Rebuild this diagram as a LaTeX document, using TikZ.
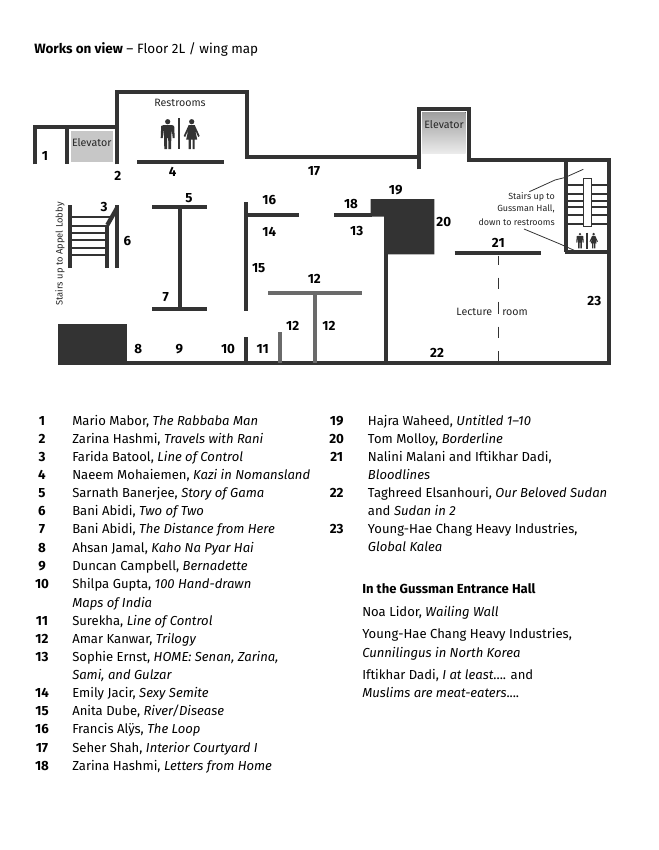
\documentclass[tikz,border=0pt]{standalone}
\usepackage{fontspec}
\setmainfont{Fira Sans}
\usetikzlibrary{positioning}
\usetikzlibrary{calc}
\definecolor{wallgray}{HTML}{333333}
\definecolor{softgray}{HTML}{6A6A6A}
\tikzstyle{wall}=[draw=wallgray,line width=3.2pt]
\tikzstyle{softwall}=[draw=softgray,line width=3pt]
\tikzstyle{tread}=[draw=wallgray,line width=1.5pt]
\tikzstyle{leader}=[draw=wallgray,line width=0.6pt]
\tikzstyle{solidblock}=[fill=wallgray]
\tikzstyle{num}=[font=\fontsize{10}{12}\selectfont\bfseries,inner sep=0pt]
\tikzstyle{caption}=[font=\fontsize{8}{10}\selectfont,inner sep=0pt,text=black!85]
\tikzstyle{listnum}=[font=\fontsize{10}{12}\selectfont\bfseries,inner sep=0pt,text height=7.5pt,text depth=2pt,yshift=-1.3pt]
\tikzstyle{listtext}=[font=\fontsize{9.8}{12}\selectfont,anchor=west,inner sep=0pt,text height=7.5pt,text depth=2pt,yshift=-1.3pt]
\tikzset{
  manfig/.pic={
    \fill[wallgray] (0,2.7) circle[radius=2.6];
    \fill[wallgray] (-6.5,7) -- (-4,6) -- (4,6) -- (6.5,7) -- (7,19) -- (5,19) -- (4,10) -- (3.6,19) -- (3.4,30) -- (0.7,30) -- (0.5,19) -- (-0.5,19) -- (-0.7,30) -- (-3.4,30) -- (-3.6,19) -- (-4,10) -- (-5,19) -- (-7,19) -- cycle;
  },
  womanfig/.pic={
    \fill[wallgray] (0,2.7) circle[radius=2.6];
    \fill[wallgray] (-3,6) -- (3,6) -- (8,17) -- (6.5,18) -- (3.5,11) -- (5.5,20.5) -- (3,20.5) -- (3,30) -- (0.8,30) -- (0.8,20.5) -- (-0.8,20.5) -- (-0.8,30) -- (-3,30) -- (-3,20.5) -- (-5.5,20.5) -- (-3.5,11) -- (-6.5,18) -- (-8,17) -- cycle;
  }
}
\begin{document}
\begin{tikzpicture}[x=0.75pt,y=-0.75pt]
    \useasboundingbox (0,0) rectangle (659,850);

    % Title
    \node[listtext,font=\fontsize{10.1}{12}\selectfont] (title) at (34,48) {\textbf{Works on view} -- Floor 2L / wing map};

    % Elevators first so the walls lie on top
    \fill[black!22] (70.7,130.7) rectangle (113,161.7);
    \fill[top color=black!38,bottom color=black!8] (422,112) rectangle (465.7,153);

    % Solid blocks
    \fill[solidblock] (57.7,324.3) rectangle (127.3,365);
    \fill[solidblock] (370.7,199) -- (434.3,199) -- (434.3,254.3) -- (384,254.3) -- (384,216.7) -- (370.7,216.7) -- cycle;

    % Outer walls
    \draw[wall] (34.7,164.3) -- (34.7,126.7) -- (117.3,126.7);
    \draw[wall] (117.3,164.3) -- (117.3,91.7) -- (246.7,91.7) -- (246.7,157) -- (419,157);
    \draw[wall] (419,169.3) -- (419,109) -- (469.3,109) -- (469.3,159.7) -- (609,159.7) -- (609,363.3) -- (127,363.3);
    \draw[wall] (67.3,126.7) -- (67.3,164.3);

    % Inner walls
    \foreach \xa/\ya/\xb/\yb in {137.3/162.3/224/162.3, 152.3/207.3/207.3/207.3, 152.3/308.7/207.3/308.7, 179.7/207.3/179.7/308.7, 246/202.3/246/310.7, 246/215/298.7/215, 246/337.3/246/363.3, 334/215/372/215, 386/254/386/363.3, 454.7/253.3/541.3/253.3, 566.3/159.7/566.3/252.3, 564.8/252.3/609/252.3, 69.7/205/69.7/268.3, 107.3/225/107.3/268.3, 117/205/117/268.3, 107.3/225/117/208}
        \draw[wall] (\xa,\ya) -- (\xb,\yb);
    \foreach \xa/\ya/\xb/\yb in {280/332.3/280/363, 268.3/292.7/361.7/292.7, 314.7/292.7/314.7/363}
        \draw[softwall] (\xa,\ya) -- (\xb,\yb);

    % Stairs
    \foreach \ya/\xb in {216.7/112, 225.7/107.3, 233.3/107.3, 240.3/107.3, 247.7/107.3, 255/107.3}
        \draw[tread] (69.7,\ya) -- (\xb,\ya);
    \foreach \ya in {185,194,200.7,207.3,215,224}
        \draw[tread] (566.3,\ya) -- (609,\ya);
    \draw[draw=wallgray,fill=white,line width=0.6pt] (583.3,178.3) rectangle (591,226.7);

    % Lecture room divider
    \foreach \ya/\yb in {255.7/265, 277.7/289.3, 301.7/314.3, 326.7/338.3, 351/361.7}
        \draw[draw=wallgray,line width=1.1pt] (498.3,\ya) -- (498.3,\yb);

    % Figures
    \path (167.7,119) pic {manfig};
    \path (191.7,119) pic {womanfig};
    \draw[draw=wallgray,line width=1.5pt] (179.3,118) -- (179.3,149);
    \path (580,232.7) pic[scale=0.52] {manfig};
    \path (593.7,232.7) pic[scale=0.52] {womanfig};
    \draw[draw=wallgray,line width=0.8pt] (587,232.7) -- (587,248.5);

    % Numbers on the plan
    \foreach \pos/\name/\label in {{(45,156)/n1/1}, {(117.7,176)/n2/2}, {(104,206.7)/n3/3}, {(172.7,172.3)/n4/4}, {(189,197.7)/n5/5}, {(127.3,240.7)/n6/6}, {(165.7,296.7)/n7/7}, {(138.3,349)/n8/8}, {(179.3,349)/n9/9}, {(228,349)/n10/10}, {(262.7,349)/n11/11}, {(292.7,326)/n12a/12}, {(314.3,279.3)/n12b/12}, {(329,326)/n12c/12}, {(356.7,230.7)/n13/13}, {(269.3,232)/n14/14}, {(258.7,267.7)/n15/15}, {(269.3,200)/n16/16}, {(314,170.7)/n17/17}, {(351,204)/n18/18}, {(395.7,190)/n19/19}, {(443.7,222.3)/n20/20}, {(498.3,243.3)/n21/21}, {(437,353.3)/n22/22}, {(594.3,301)/n23/23}}
        \node[num] (\name) at \pos {\label};

    % Captions on the plan
    \foreach \pos/\name/\label in {{(180,102.7)/restrooms/Restrooms}, {(91.7,142.7)/elevatorA/Elevator}, {(444,125)/elevatorB/Elevator}, {(474.3,312.3)/lecture/Lecture}, {(515,312.3)/room/room}}
        \node[caption] (\name) at \pos {\label};
    \node[caption,rotate=90,font=\fontsize{7}{9}\selectfont] (appel) at (60,254) {Stairs up to Appel Lobby};
    \foreach \ya/\name/\label in {196.7/noteA/{Stairs up to}, 209/noteB/{Gussman Hall,}, 221.7/noteC/{down to restrooms}}
        \node[caption,anchor=east,font=\fontsize{6.7}{9}\selectfont] (\name) at (555,\ya) {\label};

    % Leaders from the stairs note
    \coordinate (upstart) at (529.3,191.7);
    \coordinate (upmid) at (555,180);
    \coordinate (upbend) at (565,177.5);
    \coordinate (upend) at (583.3,169.3);
    \coordinate (downstart) at (524,229);
    \coordinate (downmid) at (560,244);
    \coordinate (downend) at (575,250.7);
    \draw[leader] (upstart) -- (upmid) -- (upbend) -- (upend);
    \draw[leader] (downstart) -- (downmid) -- (downend);

    % Left list
    \foreach \ya/\name/\label in {420/a1/1, 438/a2/2, 456/a3/3, 474/a4/4, 492/a5/5, 510/a6/6, 528.3/a7/7, 546.7/a8/8, 565/a9/9, 583/a10/10, 620/a11/11, 637.7/a12/12, 656/a13/13, 692/a14/14, 710/a15/15, 728.3/a16/16, 746.7/a17/17, 765/a18/18}
        \node[listnum] (\name) at (42,\ya) {\label};
    \foreach \ya/\name/\label in {420/b1/{Mario Mabor, \textit{The Rabbaba Man}}, 438/b2/{Zarina Hashmi, \textit{Travels with Rani}}, 456/b3/{Farida Batool, \textit{Line of Control}}, 474/b4/{Naeem Mohaiemen, \textit{Kazi in Nomansland}}, 492/b5/{Sarnath Banerjee, \textit{Story of Gama}}, 510/b6/{Bani Abidi, \textit{Two of Two}}, 528.3/b7/{Bani Abidi, \textit{The Distance from Here}}, 546.7/b8/{Ahsan Jamal, \textit{Kaho Na Pyar Hai}}, 565/b9/{Duncan Campbell, \textit{Bernadette}}, 583/b10/{Shilpa Gupta, \textit{100 Hand-drawn}}, 601.7/b10x/{\textit{Maps of India}}, 620/b11/{Surekha, \textit{Line of Control}}, 637.7/b12/{Amar Kanwar, \textit{Trilogy}}, 656/b13/{Sophie Ernst, \textit{HOME: Senan, Zarina,}}, 674/b13x/{\textit{Sami, and Gulzar}}, 692/b14/{Emily Jacir, \textit{Sexy Semite}}, 710/b15/{Anita Dube, \textit{River/Disease}}, 728.3/b16/{Francis Alÿs, \textit{The Loop}}, 746.7/b17/{Seher Shah, \textit{Interior Courtyard I}}, 765/b18/{Zarina Hashmi, \textit{Letters from Home}}}
        \node[listtext] (\name) at (72,\ya) {\label};

    % Right list
    \foreach \ya/\name/\label in {420/c19/19, 438/c20/20, 456/c21/21, 492/c22/22, 528/c23/23}
        \node[listnum] (\name) at (336.7,\ya) {\label};
    \foreach \ya/\name/\label in {420/d19/{Hajra Waheed, \textit{Untitled 1--10}}, 438/d20/{Tom Molloy, \textit{Borderline}}, 456/d21/{Nalini Malani and Iftikhar Dadi,}, 474/d21x/{\textit{Bloodlines}}, 492/d22/{Taghreed Elsanhouri, \textit{Our Beloved Sudan}}, 510/d22x/{and \textit{Sudan in 2}}, 528/d23/{Young-Hae Chang Heavy Industries,}, 546/d23x/{\textit{Global Kalea}}}
        \node[listtext] (\name) at (367.7,\ya) {\label};

    % Gussman hall
    \foreach \ya/\name/\label in {588/e0/{\textbf{In the Gussman Entrance Hall}}, 610.7/e1/{Noa Lidor, \textit{Wailing Wall}}, 633.3/e2/{Young-Hae Chang Heavy Industries,}, 651.7/e2x/{\textit{Cunnilingus in North Korea}}, 674/e3/{Iftikhar Dadi, \textit{I at least}.... and}, 692/e3x/{\textit{Muslims are meat-eaters}....}}
        \node[listtext] (\name) at (362,\ya) {\label};

\end{tikzpicture}
\end{document}
